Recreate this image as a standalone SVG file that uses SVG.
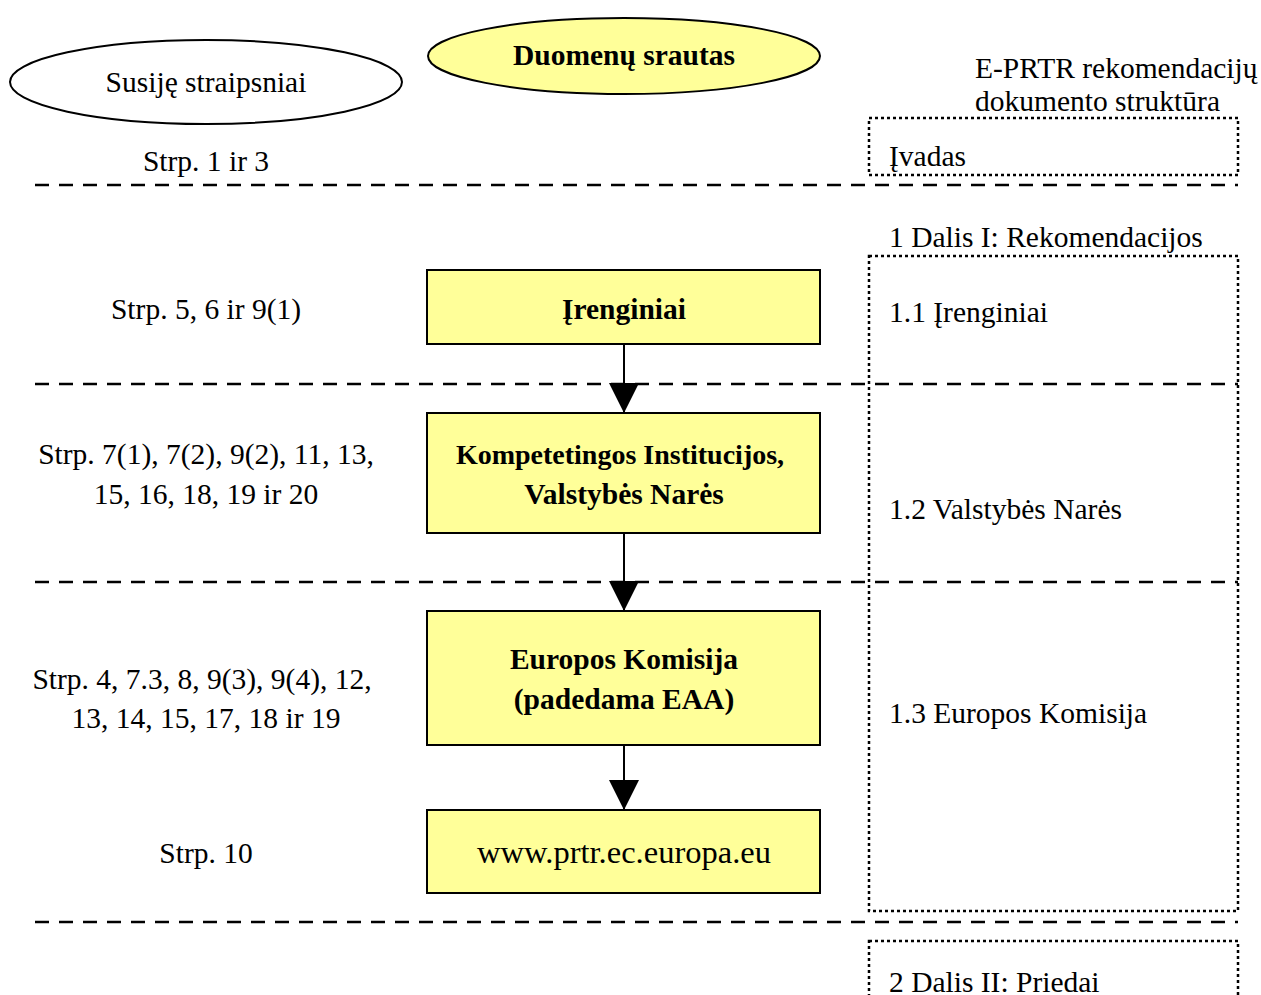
<svg xmlns="http://www.w3.org/2000/svg" width="1261" height="995" viewBox="0 0 1261 995">
<style>
text{font-family:"Liberation Serif","Times New Roman",serif;font-size:29.5px;fill:#000}
.b{font-weight:bold}
.c{text-anchor:middle}
.box{fill:#ffff99;stroke:#000;stroke-width:2}
.dash{stroke:#000;stroke-width:2.5;stroke-dasharray:14 10;fill:none}
.dot{stroke:#000;stroke-width:2.5;stroke-dasharray:3 3;fill:none}
.conn{stroke:#000;stroke-width:2;fill:none}
</style>
<defs>
<marker id="ah" markerUnits="userSpaceOnUse" markerWidth="30" markerHeight="30" viewBox="0 0 28 28" refX="14" refY="28" orient="0">
<path d="M0 0 L28 0 L14 28 Z" fill="#000"/>
</marker>
</defs>
<rect width="1261" height="995" fill="#fff"/>
<g id="separators">
<line class="dash" x1="35" y1="185" x2="1238" y2="185"/>
<line class="dash" x1="35" y1="384" x2="1238" y2="384"/>
<line class="dash" x1="35" y1="582" x2="1238" y2="582"/>
<line class="dash" x1="35" y1="922" x2="1238" y2="922"/>
</g>
<g id="header-left">
<ellipse cx="206" cy="82" rx="196" ry="42" fill="#fff" stroke="#000" stroke-width="2"/>
<text class="c" x="206" y="92">Susiję straipsniai</text>
</g>
<g id="header-mid">
<ellipse cx="624" cy="56" rx="196" ry="38" fill="#ffff99" stroke="#000" stroke-width="2"/>
<text class="c b" x="624" y="65">Duomenų srautas</text>
</g>
<g id="header-right">
<text x="975" y="78">E-PRTR rekomendacijų</text>
<text x="975" y="111">dokumento struktūra</text>
</g>
<g id="struct-ivadas">
<rect class="dot" x="869" y="118" width="369" height="57"/>
<text x="889" y="166">Įvadas</text>
</g>
<g id="struct-dalis1">
<text x="889" y="247">1 Dalis I: Rekomendacijos</text>
<rect class="dot" x="869" y="256" width="369" height="655"/>
<text x="889" y="322">1.1 Įrenginiai</text>
<text x="889" y="519">1.2 Valstybės Narės</text>
<text x="889" y="723">1.3 Europos Komisija</text>
</g>
<g id="struct-dalis2">
<rect class="dot" x="869" y="941" width="369" height="70"/>
<text x="889" y="992">2 Dalis II: Priedai</text>
</g>
<g id="left-labels">
<text class="c" x="206" y="171">Strp. 1 ir 3</text>
<text class="c" x="206" y="319">Strp. 5, 6 ir 9(1)</text>
<text class="c" x="206" y="464">Strp. 7(1), 7(2), 9(2), 11, 13,</text>
<text class="c" x="206" y="504">15, 16, 18, 19 ir 20</text>
<text class="c" x="202" y="689">Strp. 4, 7.3, 8, 9(3), 9(4), 12,</text>
<text class="c" x="206" y="728">13, 14, 15, 17, 18 ir 19</text>
<text class="c" x="206" y="863">Strp. 10</text>
</g>
<g id="connectors">
<line class="conn" x1="624" y1="344" x2="624" y2="413" marker-end="url(#ah)"/>
<line class="conn" x1="624" y1="533" x2="624" y2="611" marker-end="url(#ah)"/>
<line class="conn" x1="624" y1="745" x2="624" y2="810" marker-end="url(#ah)"/>
</g>
<g id="node-irenginiai">
<rect class="box" x="427" y="270" width="393" height="74"/>
<text class="c b" x="624" y="319">Įrenginiai</text>
</g>
<g id="node-kompetetingos">
<rect class="box" x="427" y="413" width="393" height="120"/>
<text class="c b" x="620" y="464" style="font-size:28px">Kompetetingos Institucijos,</text>
<text class="c b" x="624" y="504">Valstybės Narės</text>
</g>
<g id="node-komisija">
<rect class="box" x="427" y="611" width="393" height="134"/>
<text class="c b" x="624" y="669">Europos Komisija</text>
<text class="c b" x="624" y="709">(padedama EAA)</text>
</g>
<g id="node-www">
<rect class="box" x="427" y="810" width="393" height="83"/>
<text class="c" x="624" y="863" style="font-size:32.5px">www.prtr.ec.europa.eu</text>
</g>
</svg>
